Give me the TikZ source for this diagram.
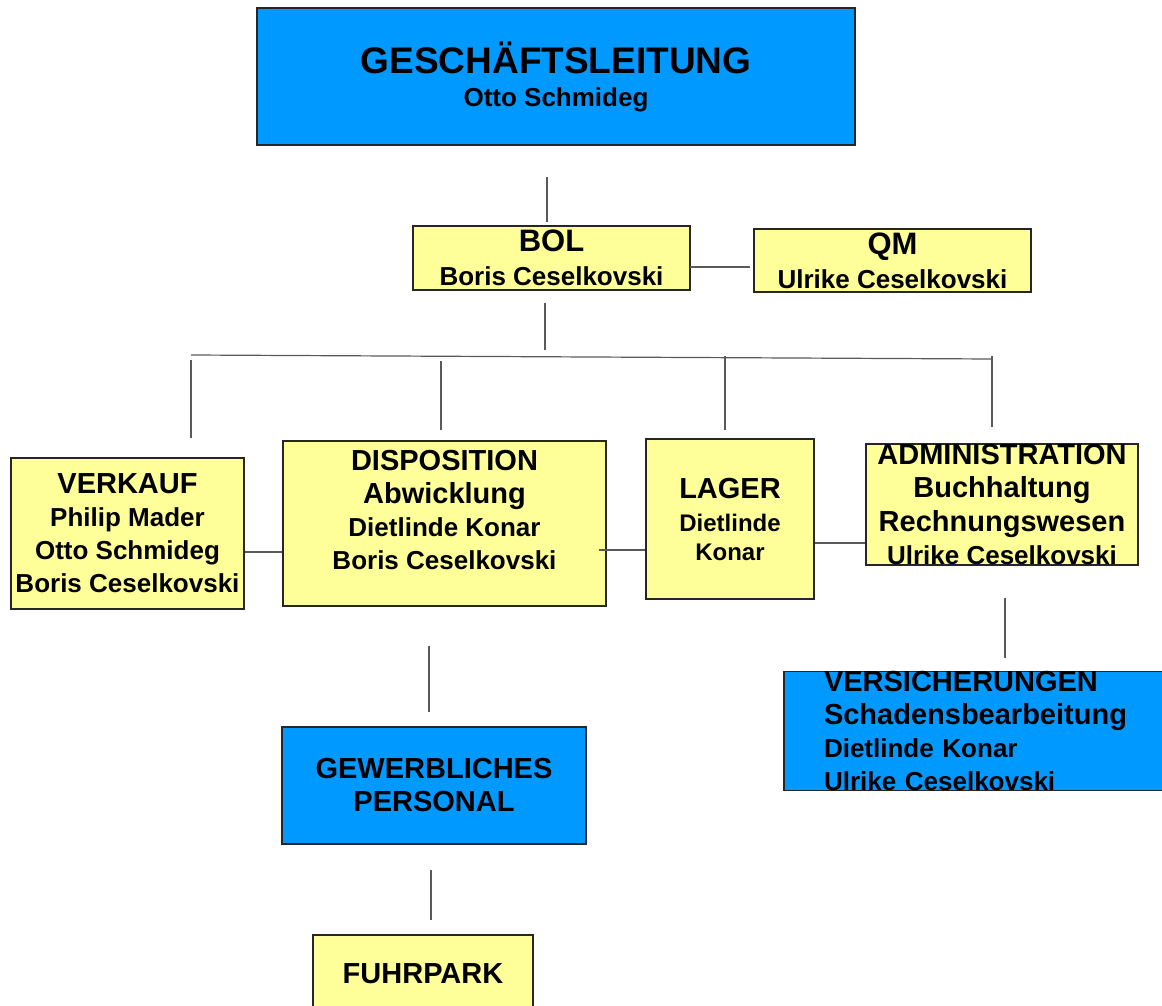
\documentclass[tikz,border=0pt]{standalone}
\usepackage{fontspec}
\setmainfont{Liberation Sans}
\usetikzlibrary{positioning}
\definecolor{chiefblue}{RGB}{0,153,255}
\definecolor{deptyellow}{RGB}{255,255,153}
\newcommand{\titlefont}{\fontsize{18.5}{19}\selectfont}
\newcommand{\headfont}{\fontsize{14.5}{16.5}\selectfont}
\newcommand{\namefont}{\fontsize{13}{16.5}\selectfont}
\tikzstyle{chief}=[rectangle,draw=black!85,line width=0.7pt,fill=chiefblue,inner sep=0pt,align=center,font=\bfseries\namefont]
\tikzstyle{dept}=[rectangle,draw=black!85,line width=0.7pt,fill=deptyellow,inner sep=0pt,align=center,font=\bfseries\namefont]
\tikzstyle{line}=[draw=black!65,line width=0.6pt]

\begin{document}
\begin{tikzpicture}[x=0.5pt,y=-0.5pt]
            \useasboundingbox (0,0) rectangle (1162,1006);

            % LEITUNG PART

            \node[chief,minimum width=299pt,minimum height=68.5pt] (gl) at (556,76.5) {{\titlefont GESCHÄFTSLEITUNG}\\Otto Schmideg};
            \node[dept,minimum width=138.5pt,minimum height=32pt,font=\bfseries\fontsize{13}{17}\selectfont] (bol) at (551.5,258) {{\fontsize{15.5}{17}\selectfont BOL}\\Boris Ceselkovski};
            \node[dept,minimum width=138.5pt,minimum height=31.5pt,font=\bfseries\fontsize{13}{17}\selectfont] (qm) at (892.5,260.5) {{\fontsize{15.5}{17}\selectfont QM}\\Ulrike Ceselkovski};

            \coordinate (gl-a) at (547,177);
            \coordinate (gl-b) at (547,222);
            \coordinate (qm-a) at (690,267);
            \coordinate (qm-b) at (750,267);
            \coordinate (bol-a) at (545,303);
            \coordinate (bol-b) at (545,350);

            \path[line] (gl-a) edge (gl-b);
            \path[line] (qm-a) edge (qm-b);
            \path[line] (bol-a) edge (bol-b);

            % ABTEILUNGEN PART

            \node[dept,minimum width=116.5pt,minimum height=75.5pt] (verkauf) at (127.5,533.5) {{\headfont VERKAUF}\\Philip Mader\\Otto Schmideg\\Boris Ceselkovski};
            \node[dept,minimum width=161.5pt,minimum height=82.5pt,text depth=14pt] (dispo) at (444.5,523.5) {{\headfont DISPOSITION}\\{\headfont Abwicklung}\\Dietlinde Konar\\Boris Ceselkovski};
            \node[dept,minimum width=84pt,minimum height=80pt,font=\bfseries\fontsize{12}{14.5}\selectfont] (lager) at (730,519) {{\headfont LAGER}\\[2pt]Dietlinde\\Konar};
            \node[dept,minimum width=136pt,minimum height=60.5pt,font=\bfseries\fontsize{13}{16.8}\selectfont] (admin) at (1002,504.5) {{\headfont ADMINISTRATION}\\{\headfont Buchhaltung}\\{\headfont Rechnungswesen}\\Ulrike Ceselkovski};

            \coordinate (bus-l) at (191,355);
            \coordinate (bus-r) at (992,359);
            \coordinate (verkauf-a) at (191,360);
            \coordinate (verkauf-b) at (191,438);
            \coordinate (dispo-a) at (441,361);
            \coordinate (dispo-b) at (441,430);
            \coordinate (lager-a) at (725,356);
            \coordinate (lager-b) at (725,430);
            \coordinate (admin-a) at (992,356);
            \coordinate (admin-b) at (992,427);

            \path[line] (bus-l) edge (bus-r);
            \path[line] (verkauf-a) edge (verkauf-b);
            \path[line] (dispo-a) edge (dispo-b);
            \path[line] (lager-a) edge (lager-b);
            \path[line] (admin-a) edge (admin-b);

            \path[line] (verkauf.east |- 0,552) edge (dispo.west |- 0,552);
            \path[line] ([xshift=-4pt]dispo.east |- 0,550) edge (lager.west |- 0,550);
            \path[line] (lager.east |- 0,543) edge (admin.west |- 0,543);

            % UNTERE PART

            \node[chief,minimum width=193pt,minimum height=59pt,text width=153pt,align=left] (vers) at (977,731) {{\headfont VERSICHERUNGEN}\\{\headfont Schadensbearbeitung}\\Dietlinde Konar\\Ulrike Ceselkovski};
            \node[chief,minimum width=152pt,minimum height=58.5pt,font=\bfseries\headfont] (gew) at (434,785.5) {GEWERBLICHES\\PERSONAL};
            \node[dept,minimum width=110pt,minimum height=39pt,font=\bfseries\headfont] (fuhr) at (423,974) {FUHRPARK};

            \coordinate (vers-a) at (1005,598);
            \coordinate (vers-b) at (1005,658);
            \coordinate (gew-a) at (429,646);
            \coordinate (gew-b) at (429,712);
            \coordinate (fuhr-a) at (431,870);
            \coordinate (fuhr-b) at (431,920);

            \path[line] (vers-a) edge (vers-b);
            \path[line] (gew-a) edge (gew-b);
            \path[line] (fuhr-a) edge (fuhr-b);

\end{tikzpicture}
\end{document}
